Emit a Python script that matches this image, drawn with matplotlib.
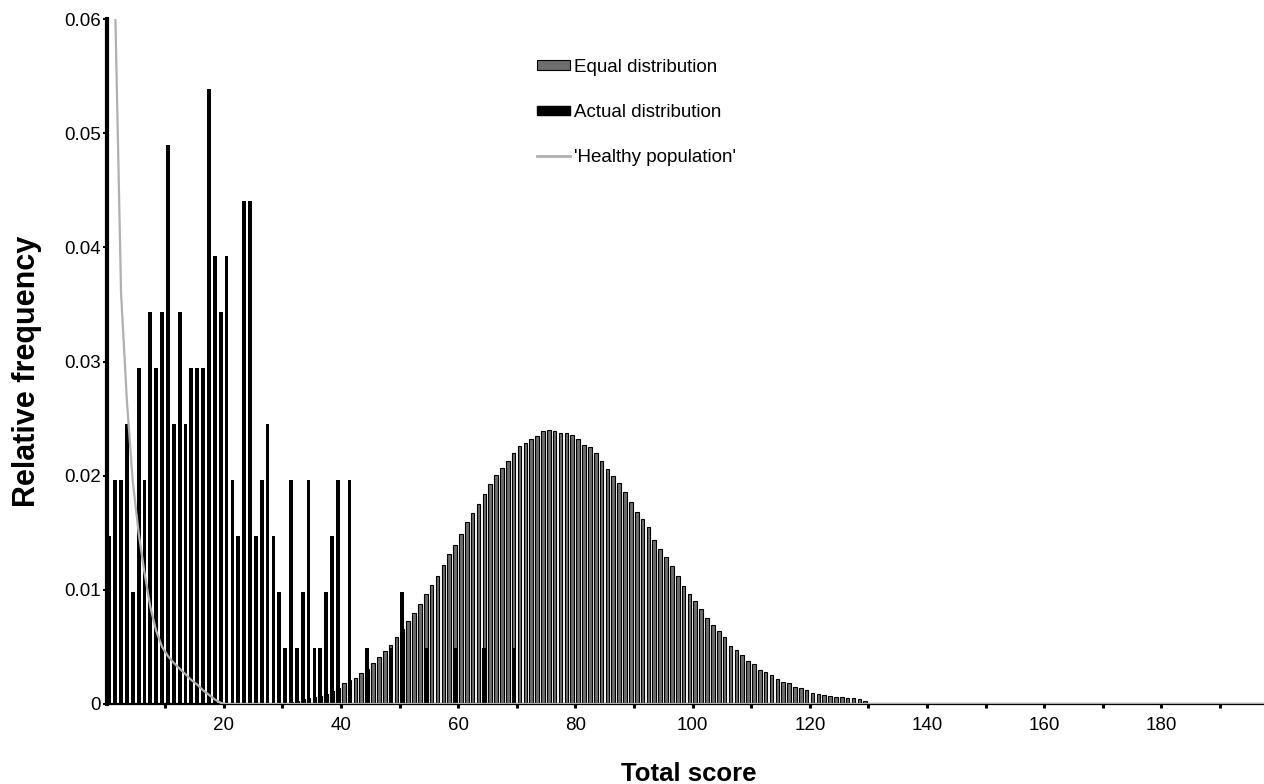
import numpy as np
import matplotlib
matplotlib.use('Agg')
import matplotlib.pyplot as plt
from matplotlib.patches import Patch
from matplotlib.lines import Line2D

plt.rcParams['font.family'] = ['Liberation Sans', 'DejaVu Sans']

# actual distribution (black bars), scores 0..41 plus a few later ones
actual_scores = list(range(0, 42)) + [44, 48, 50, 54, 59, 64, 69]
actual_freq = [0.0147, 0.0196, 0.0196, 0.0245, 0.0098, 0.0294, 0.0196, 0.0343,
               0.0294, 0.0343, 0.0490, 0.0245, 0.0343, 0.0245, 0.0294, 0.0294,
               0.0294, 0.0539, 0.0392, 0.0343, 0.0392, 0.0196, 0.0147, 0.0441,
               0.0441, 0.0147, 0.0196, 0.0245, 0.0147, 0.0098, 0.0049, 0.0196,
               0.0049, 0.0098, 0.0196, 0.0049, 0.0049, 0.0098, 0.0147, 0.0196,
               0.0, 0.0196,
               0.0049, 0.0049, 0.0098, 0.0049, 0.0049, 0.0049, 0.0049]

# equal distribution (gray bars), scores 31..129
equal_scores = list(range(31, 130))
equal_freq = [0.0002, 0.0003, 0.0004, 0.0005, 0.0006, 0.0007, 0.0009, 0.0011, 0.0014,
              0.0018, 0.0021, 0.0023, 0.0027, 0.0031, 0.0036, 0.0041, 0.0046, 0.0052,
              0.0059, 0.0066, 0.0073, 0.0080, 0.0088, 0.0096, 0.0104, 0.0112, 0.0122,
              0.0131, 0.0139, 0.0149, 0.0159, 0.0167, 0.0175, 0.0184, 0.0193, 0.0201,
              0.0207, 0.0213, 0.0220, 0.0226, 0.0229, 0.0232, 0.0235, 0.0239, 0.0240,
              0.0239, 0.0237, 0.0237, 0.0236, 0.0232, 0.0227, 0.0225, 0.0220, 0.0213,
              0.0206, 0.0200, 0.0194, 0.0186, 0.0177, 0.0168, 0.0162, 0.0155, 0.0144,
              0.0136, 0.0129, 0.0121, 0.0112, 0.0103, 0.0096, 0.0090, 0.0083, 0.0075,
              0.0069, 0.0064, 0.0059, 0.0051, 0.0047, 0.0043, 0.0038, 0.0035, 0.0030,
              0.0028, 0.0025, 0.0022, 0.0019, 0.0018, 0.0015, 0.0014, 0.0012, 0.0010,
              0.0009, 0.0008, 0.0007, 0.0006, 0.0006, 0.0005, 0.0005, 0.0004, 0.0003]

# 'healthy population' curve, scores 1..197
healthy_scores = list(range(1, 198))
healthy_freq = [0.061, 0.036, 0.0265, 0.0195, 0.0150, 0.0115, 0.0085, 0.0064, 0.0050,
                0.0042, 0.0036, 0.0031, 0.0026, 0.0021, 0.0017, 0.0012, 0.0008,
                0.0004, 0.0001] + [0.0] * 178

fig = plt.figure(figsize=(12.64, 7.84), dpi=100)
ax = fig.add_axes([106.7/1264, 80/784, 1 - 106.7/1264, 685/784])

off = 0.45  # bars sit just right of the score tick
ax.bar(np.array(equal_scores) + off, equal_freq, width=0.62, color='#6e6e6e',
       edgecolor='black', linewidth=0.8, zorder=2)
ax.bar(np.array(actual_scores) + off, actual_freq, width=0.64, color='black',
       linewidth=0, zorder=3)
ax.plot(np.array(healthy_scores) + off, healthy_freq, color='#b0b0b0', lw=1.6,
        zorder=4, clip_on=True)

ax.set_xlim(0, 197.5)
ax.set_ylim(0, 0.06)

for sp in ['top', 'right']:
    ax.spines[sp].set_visible(False)
ax.spines['left'].set_linewidth(3)
ax.spines['bottom'].set_linewidth(1.6)

ax.set_yticks([0, 0.01, 0.02, 0.03, 0.04, 0.05, 0.06])
ax.set_yticklabels(['0', '0.01', '0.02', '0.03', '0.04', '0.05', '0.06'])
xt = list(range(10, 200, 10))
ax.set_xticks(xt)
ax.set_xticklabels([str(v) if v % 20 == 0 else '' for v in xt])
ax.tick_params(axis='x', length=3, width=2.2, pad=6, labelsize=13.5)
ax.tick_params(axis='y', length=3, width=1.5, pad=1, labelsize=13.5)

ax.set_xlabel('Total score', fontsize=18.5, fontweight='bold')
ax.set_ylabel('Relative frequency', fontsize=22, fontweight='bold')
ax.xaxis.set_label_coords(0.503, -0.085)
ax.yaxis.set_label_coords(-0.056, 0.486)

handles = [Patch(facecolor='#6e6e6e', edgecolor='black', linewidth=0.8),
           Patch(facecolor='black', edgecolor='black'),
           Line2D([0], [0], color='#b0b0b0', lw=2)]
labels = ['Equal distribution', 'Actual distribution', "'Healthy population'"]
ax.legend(handles, labels, loc='upper left', bbox_to_anchor=(537/1264, 1 - 59/784),
          bbox_transform=fig.transFigure, frameon=False, fontsize=13.5,
          borderpad=0, borderaxespad=0, handlelength=1.75, handleheight=0.42,
          handletextpad=0.2, labelspacing=1.5)

fig.savefig('out.png', dpi=100)
